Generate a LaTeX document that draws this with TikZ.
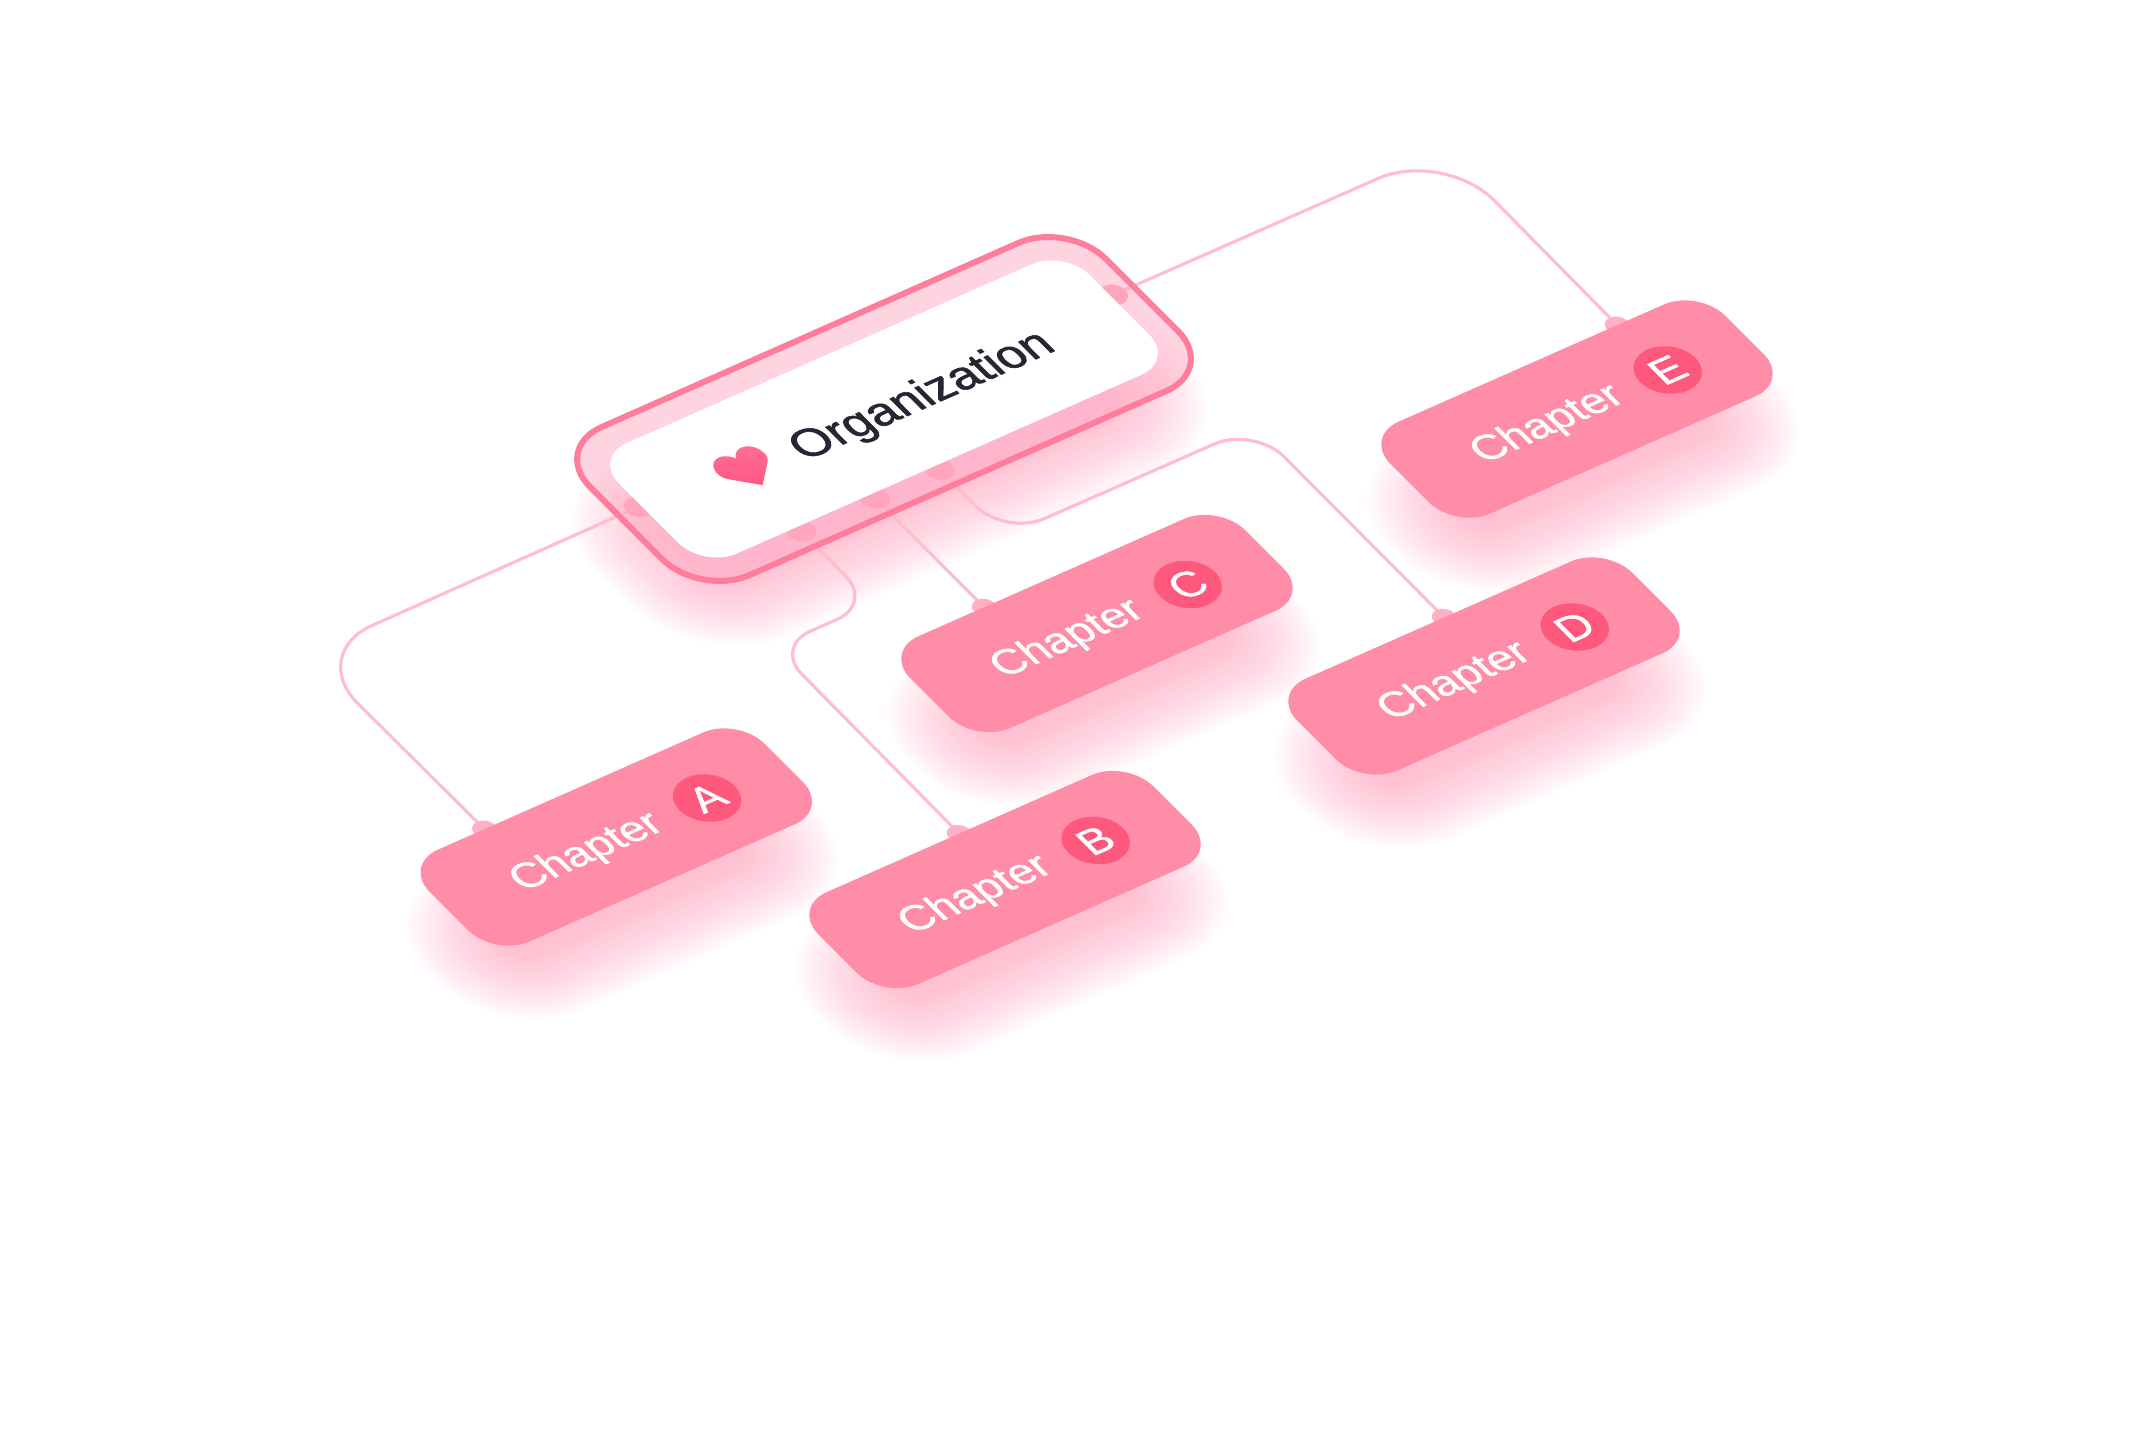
\documentclass[tikz,border=0pt]{standalone}
\usepackage{fontspec}
\setmainfont{Liberation Sans}
\newfontfamily\cardfont[FakeBold=1.0]{Liberation Sans}
\newfontfamily\orgfont[FakeBold=1.4]{Liberation Sans}
\usetikzlibrary{backgrounds}
\pgfdeclarelayer{shadowlayer}
\pgfdeclarelayer{wirelayer}
\pgfdeclarelayer{dotlayer}
\pgfsetlayers{shadowlayer,wirelayer,dotlayer,main}
\definecolor{cardpink}{RGB}{255,141,167}
\definecolor{badgepink}{RGB}{255,88,125}
\definecolor{ringstroke}{RGB}{255,125,155}
\definecolor{ringfill}{RGB}{255,170,195}
\definecolor{wirepink}{RGB}{255,190,206}
\definecolor{dotpink}{RGB}{255,176,197}
\definecolor{orgdotpink}{RGB}{255,160,186}
\definecolor{shadowpink}{RGB}{255,140,172}
\definecolor{inkdark}{RGB}{36,39,51}
\definecolor{heartA}{RGB}{255,112,150}
\definecolor{heartB}{RGB}{255,88,130}
\tikzset{
  iso/.style={cm={1,0.4418,-0.74,0.74,(0,0)}},
  cardbox/.style={transform shape,rectangle,fill=cardpink,rounded corners=38pt,minimum width=335pt,minimum height=124pt,inner sep=0pt},
  chaplabel/.style={transform shape,text=white,inner sep=0pt,font=\cardfont\fontsize{40}{40}\selectfont},
  badgenode/.style={transform shape,circle,fill=badgepink,minimum size=55pt,inner sep=0pt,text=white,font=\cardfont\fontsize{40}{40}\selectfont},
  dotnode/.style={transform shape,circle,fill=dotpink,minimum size=20pt,inner sep=0pt},
  orgdot/.style={dotnode,fill=orgdotpink,minimum size=24pt},
  wire/.style={draw=wirepink,line width=3.2pt,line join=round},
  orgring/.style={transform shape,rectangle,fill=ringfill,fill opacity=0.5,draw=ringstroke,draw opacity=1,line width=6pt,rounded corners=54pt,minimum width=516pt,minimum height=200pt,inner sep=0pt},
  orgcore/.style={transform shape,rectangle,fill=white,rounded corners=36pt,minimum width=471pt,minimum height=149pt,inner sep=0pt},
  orglabel/.style={transform shape,text=inkdark,inner sep=0pt,font=\orgfont\fontsize{44.5}{44.5}\selectfont}
}
\newcommand{\softshadow}[5]{%
  \begin{pgfonlayer}{shadowlayer}
  \begin{scope}[shift={(#1,-(#2))},iso]
    \foreach \e in {-32,-30,...,44}{
      \pgfmathsetmacro{\rr}{#5+\e}
      \fill[shadowpink,fill opacity=0.018,rounded corners=\rr pt] (-#3/2-\e,-#4/2-\e) rectangle (#3/2+\e,#4/2+\e);
    }
  \end{scope}
  \end{pgfonlayer}}
\newcommand{\chaptercard}[4]{%
  \softshadow{#2+6}{#3+56}{295}{100}{50}
  \begin{scope}[shift={(#2,-#3)},iso]
    \begin{pgfonlayer}{dotlayer}
      \node[dotnode] (dot#1) at (#4,62) {};
    \end{pgfonlayer}
    \node[cardbox] (card#1) at (0,0) {};
    \node[chaplabel] (label#1) at (-31,-2.6) {Chapter};
    \node[badgenode] (badge#1) at (90,-1) {#1};
  \end{scope}}
\begin{document}
\begin{tikzpicture}[x=1pt,y=1pt]
\useasboundingbox (0,0) rectangle (2147,-1442);

% organisation box
\softshadow{890}{465}{470}{150}{60}
\begin{scope}[shift={(884,-409)},iso]
  \begin{pgfonlayer}{dotlayer}
    \node[orgdot] (orgA) at (-238,10) {};
    \node[orgdot] (orgB) at (-142,-80) {};
    \node[orgdot] (orgC) at (-68,-80) {};
    \node[orgdot] (orgD) at (-3,-80) {};
    \node[orgdot] (orgE) at (238,12) {};
  \end{pgfonlayer}
  \node[orgring] (org) at (0,0) {};
  \node[orgcore] (orgcore) at (0,0) {};
  \shade[top color=heartA,bottom color=heartB] (-137,-21) -- (-157,-1)
     .. controls (-164,6) and (-160,23) .. (-148,23)
     .. controls (-143,23) and (-139,19) .. (-137,15)
     .. controls (-135,19) and (-131,23) .. (-126,23)
     .. controls (-114,23) and (-110,6) .. (-117,-1) -- cycle;
  \node[orglabel] (orgtext) at (35.4,-4.8) {Organization};
\end{scope}

% chapter cards
\chaptercard{A}{616.3}{837}{-86}
\chaptercard{B}{1005}{879.5}{0}
\chaptercard{C}{1097}{623.5}{-67}
\chaptercard{D}{1484}{666}{6}
\chaptercard{E}{1577}{409}{86}

% bends of the connectors
\coordinate (bendA) at (308,-654);
\coordinate (bendB1) at (872.5,-603.5);
\coordinate (bendB2) at (775,-647);
\coordinate (bendD1) at (1004.8,-536);
\coordinate (bendD2) at (1254,-426.6);
\coordinate (bendE) at (1444,-149.5);

\begin{pgfonlayer}{wirelayer}
  \draw[wire,rounded corners=70pt] (orgA.center) -- (bendA) -- (dotA.center);
  \draw[wire,rounded corners=38pt] (orgB.center) -- (bendB1) -- (bendB2) -- (dotB.center);
  \draw[wire] (orgC.center) -- (dotC.center);
  \draw[wire,rounded corners=43pt] (orgD.center) -- (bendD1) -- (bendD2) -- (dotD.center);
  \draw[wire,rounded corners=72pt] (orgE.center) -- (bendE) -- (dotE.center);
\end{pgfonlayer}
\end{tikzpicture}
\end{document}
